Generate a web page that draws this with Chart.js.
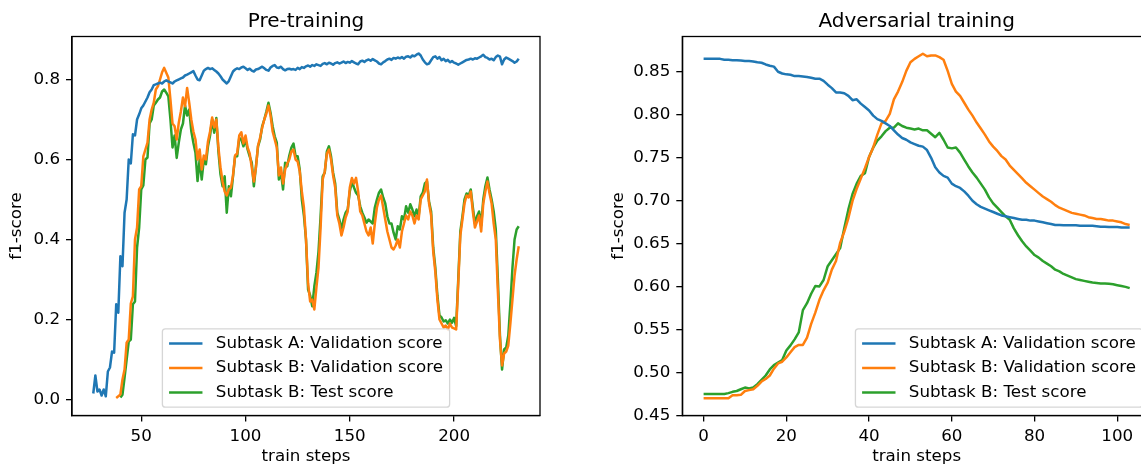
<!DOCTYPE html>
<html>
<head>
<meta charset="utf-8">
<script src="https://cdn.jsdelivr.net/npm/chart.js@4.4.1/dist/chart.umd.min.js"></script>
<style>
  html, body { margin: 0; padding: 0; background: #fff; overflow: hidden; }
  #left { position: absolute; left: 0; top: 0; width: 560px; height: 466px; }
  #right { position: absolute; left: 570px; top: 0; width: 590px; height: 466px; }
</style>
</head>
<body>
<div id="left"><canvas id="preChart"></canvas></div>
<div id="right"><canvas id="advChart"></canvas></div>
<script>
// labels
const seriesLabels = ['Subtask A: Validation score', 'Subtask B: Validation score', 'Subtask B: Test score'];
const seriesColors = ['#1f77b4', '#ff7f0e', '#2ca02c'];

// Pre-training: steps 27..231
const preFirstStep = 27;
const preLastStep = 231;
const preXTicks = [50, 100, 150, 200];
const preYTicks = [0.0, 0.2, 0.4, 0.6, 0.8];

const preA = [
  0.015, 0.060, 0.020, 0.025, 0.010, 0.025, 0.008, 0.070, 0.080, 0.120,
  0.117, 0.238, 0.217, 0.358, 0.333, 0.467, 0.500, 0.600, 0.590, 0.663,
  0.660, 0.700, 0.713, 0.728, 0.735, 0.745, 0.755, 0.768, 0.775, 0.786,
  0.788, 0.790, 0.792, 0.790, 0.795, 0.798, 0.795, 0.793, 0.790, 0.795,
  0.798, 0.800, 0.803, 0.805, 0.810, 0.812, 0.815, 0.818, 0.821, 0.810,
  0.800, 0.798, 0.810, 0.822, 0.826, 0.829, 0.826, 0.828, 0.824, 0.820,
  0.815, 0.808, 0.800, 0.795, 0.790, 0.796, 0.808, 0.820, 0.825, 0.828,
  0.826, 0.830, 0.832, 0.828, 0.824, 0.827, 0.822, 0.820, 0.825, 0.826,
  0.829, 0.832, 0.828, 0.824, 0.822, 0.830, 0.834, 0.836, 0.830, 0.829,
  0.832, 0.826, 0.823, 0.826, 0.827, 0.825, 0.826, 0.824, 0.829, 0.826,
  0.831, 0.829, 0.833, 0.835, 0.832, 0.836, 0.834, 0.838, 0.836, 0.834,
  0.839, 0.841, 0.838, 0.842, 0.840, 0.837, 0.841, 0.843, 0.840, 0.842,
  0.845, 0.841, 0.844, 0.842, 0.846, 0.843, 0.840, 0.838, 0.845, 0.847,
  0.844, 0.848, 0.850, 0.847, 0.851, 0.848, 0.845, 0.840, 0.838, 0.843,
  0.846, 0.850, 0.852, 0.849, 0.854, 0.852, 0.855, 0.853, 0.856, 0.852,
  0.857, 0.858, 0.855, 0.860, 0.858, 0.862, 0.865, 0.860, 0.850, 0.843,
  0.838, 0.840, 0.848, 0.856, 0.858, 0.852, 0.856, 0.848, 0.852, 0.846,
  0.849, 0.843, 0.846, 0.842, 0.840, 0.837, 0.840, 0.843, 0.846, 0.849,
  0.850, 0.852, 0.850, 0.853, 0.852, 0.855, 0.858, 0.862, 0.856, 0.854,
  0.850, 0.852, 0.848, 0.856, 0.860, 0.857, 0.838, 0.850, 0.855, 0.852,
  0.849, 0.846, 0.842, 0.845, 0.852
];

const preBVal = [
  null, null, null, null, null, null, null, null, null, null,
  null, 0.004, 0.008, 0.013, 0.050, 0.075, 0.142, 0.150, 0.240, 0.258,
  0.400, 0.430, 0.525, 0.533, 0.608, 0.625, 0.642, 0.700, 0.725, 0.742,
  0.775, 0.783, 0.800, 0.818, 0.829, 0.817, 0.805, 0.750, 0.690, 0.683,
  0.650, 0.692, 0.720, 0.755, 0.733, 0.779, 0.742, 0.700, 0.670, 0.650,
  0.600, 0.625, 0.575, 0.610, 0.600, 0.645, 0.670, 0.705, 0.680, 0.700,
  0.630, 0.580, 0.545, 0.520, 0.510, 0.525, 0.530, 0.560, 0.610, 0.615,
  0.660, 0.668, 0.640, 0.660, 0.630, 0.615, 0.580, 0.545, 0.580, 0.635,
  0.655, 0.680, 0.700, 0.715, 0.735, 0.710, 0.670, 0.650, 0.630, 0.560,
  0.580, 0.540, 0.575, 0.590, 0.600, 0.620, 0.625, 0.600, 0.595, 0.570,
  0.520, 0.480, 0.400, 0.290, 0.245, 0.250, 0.225, 0.280, 0.330, 0.430,
  0.550, 0.570, 0.615, 0.625, 0.600, 0.560, 0.530, 0.460, 0.440, 0.410,
  0.430, 0.455, 0.470, 0.530, 0.554, 0.540, 0.554, 0.520, 0.470, 0.460,
  0.440, 0.420, 0.410, 0.430, 0.390, 0.440, 0.480, 0.500, 0.510, 0.480,
  0.450, 0.420, 0.400, 0.380, 0.375, 0.385, 0.400, 0.380, 0.420, 0.440,
  0.460, 0.450, 0.470, 0.460, 0.440, 0.460, 0.450, 0.500, 0.510, 0.520,
  0.550, 0.490, 0.460, 0.370, 0.320, 0.250, 0.200, 0.190, 0.180, 0.185,
  0.175, 0.190, 0.180, 0.178, 0.175, 0.290, 0.410, 0.450, 0.490, 0.510,
  0.505, 0.520, 0.470, 0.430, 0.445, 0.460, 0.420, 0.490, 0.520, 0.545,
  0.515, 0.490, 0.440, 0.400, 0.270, 0.150, 0.085, 0.115, 0.120, 0.135,
  0.190, 0.250, 0.310, 0.350, 0.383
];

const preBTest = [
  null, null, null, null, null, null, null, null, null, null,
  null, null, null, 0.005, 0.012, 0.055, 0.100, 0.145, 0.150, 0.238,
  0.245, 0.380, 0.430, 0.525, 0.535, 0.600, 0.605, 0.690, 0.700, 0.735,
  0.742, 0.750, 0.755, 0.770, 0.775, 0.767, 0.758, 0.700, 0.630, 0.660,
  0.604, 0.642, 0.675, 0.690, 0.735, 0.710, 0.725, 0.671, 0.642, 0.617,
  0.546, 0.600, 0.550, 0.600, 0.588, 0.633, 0.660, 0.700, 0.667, 0.704,
  0.620, 0.563, 0.533, 0.558, 0.467, 0.533, 0.508, 0.558, 0.608, 0.608,
  0.654, 0.650, 0.633, 0.650, 0.625, 0.608, 0.592, 0.533, 0.583, 0.633,
  0.650, 0.683, 0.700, 0.720, 0.742, 0.717, 0.683, 0.658, 0.642, 0.550,
  0.567, 0.525, 0.592, 0.583, 0.610, 0.630, 0.640, 0.608, 0.608, 0.575,
  0.500, 0.460, 0.400, 0.275, 0.260, 0.233, 0.283, 0.317, 0.370, 0.458,
  0.558, 0.567, 0.620, 0.633, 0.608, 0.567, 0.540, 0.467, 0.450, 0.425,
  0.450, 0.467, 0.475, 0.520, 0.545, 0.530, 0.517, 0.510, 0.483, 0.467,
  0.455, 0.442, 0.450, 0.445, 0.440, 0.480, 0.500, 0.517, 0.525, 0.505,
  0.490, 0.458, 0.440, 0.440, 0.417, 0.400, 0.433, 0.425, 0.458, 0.450,
  0.483, 0.467, 0.488, 0.475, 0.458, 0.475, 0.458, 0.508, 0.517, 0.540,
  0.545, 0.495, 0.470, 0.380, 0.330, 0.260, 0.210, 0.205, 0.195, 0.198,
  0.190, 0.200, 0.192, 0.204, 0.183, 0.300, 0.420, 0.458, 0.500, 0.515,
  0.510, 0.525, 0.480, 0.440, 0.458, 0.470, 0.435, 0.500, 0.533, 0.555,
  0.525, 0.500, 0.470, 0.425, 0.300, 0.160, 0.075, 0.125, 0.130, 0.160,
  0.240, 0.330, 0.400, 0.425, 0.433
];

// Adversarial training: steps 0..103
const advFirstStep = 0;
const advLastStep = 103;
const advXTicks = [0, 20, 40, 60, 80, 100];
const advYTicks = [0.45, 0.50, 0.55, 0.60, 0.65, 0.70, 0.75, 0.80, 0.85];

const advA = [
  0.865, 0.865, 0.865, 0.865, 0.865, 0.864, 0.864, 0.8635, 0.8635, 0.863,
  0.8625, 0.8625, 0.862, 0.861, 0.8605, 0.8585, 0.857, 0.856, 0.850, 0.848,
  0.847, 0.8465, 0.845, 0.845, 0.8445, 0.844, 0.843, 0.842, 0.842, 0.8395,
  0.835, 0.831, 0.826, 0.826, 0.825, 0.822, 0.817, 0.818, 0.813, 0.809,
  0.805, 0.799, 0.795, 0.793, 0.790, 0.787, 0.782, 0.777, 0.773, 0.771,
  0.768, 0.766, 0.764, 0.763, 0.759, 0.750, 0.739, 0.733, 0.729, 0.727,
  0.720, 0.717, 0.715, 0.711, 0.706, 0.700, 0.696, 0.693, 0.691, 0.689,
  0.687, 0.685, 0.683, 0.682, 0.681, 0.680, 0.679, 0.678, 0.678, 0.677,
  0.677, 0.676, 0.675, 0.674, 0.673, 0.672, 0.672, 0.6715, 0.6715, 0.6715,
  0.6715, 0.671, 0.671, 0.671, 0.671, 0.6705, 0.670, 0.670, 0.6695, 0.6695,
  0.6695, 0.669, 0.669, 0.669
];

const advBVal = [
  0.4705, 0.4705, 0.4705, 0.4705, 0.4705, 0.4705, 0.4705, 0.474, 0.474, 0.4745,
  0.479, 0.480, 0.481, 0.485, 0.490, 0.493, 0.497, 0.505, 0.511, 0.513,
  0.518, 0.524, 0.530, 0.5325, 0.5325, 0.541, 0.557, 0.570, 0.585, 0.596,
  0.605, 0.620, 0.630, 0.651, 0.664, 0.680, 0.700, 0.714, 0.726, 0.738,
  0.751, 0.762, 0.777, 0.790, 0.793, 0.801, 0.818, 0.827, 0.838, 0.851,
  0.861, 0.865, 0.868, 0.871, 0.868, 0.869, 0.869, 0.867, 0.864, 0.851,
  0.836, 0.827, 0.822, 0.814, 0.806, 0.799, 0.791, 0.784, 0.777, 0.769,
  0.763, 0.758, 0.752, 0.748, 0.741, 0.736, 0.731, 0.726, 0.721, 0.717,
  0.713, 0.709, 0.705, 0.702, 0.699, 0.695, 0.692, 0.690, 0.688, 0.686,
  0.685, 0.684, 0.683, 0.681, 0.680, 0.679, 0.679, 0.678, 0.677, 0.677,
  0.676, 0.675, 0.673, 0.672
];

const advBTest = [
  0.4755, 0.4755, 0.4755, 0.4755, 0.4755, 0.4755, 0.4765, 0.478, 0.479, 0.481,
  0.483, 0.482, 0.483, 0.487, 0.492, 0.497, 0.504, 0.509, 0.512, 0.515,
  0.526, 0.532, 0.539, 0.547, 0.573, 0.581, 0.592, 0.601, 0.6005, 0.608,
  0.624, 0.631, 0.638, 0.645, 0.668, 0.690, 0.708, 0.720, 0.729, 0.732,
  0.751, 0.762, 0.770, 0.775, 0.781, 0.785, 0.785, 0.790, 0.787, 0.785,
  0.784, 0.783, 0.784, 0.782, 0.782, 0.778, 0.774, 0.779, 0.771, 0.762,
  0.761, 0.762, 0.756, 0.748, 0.740, 0.733, 0.727, 0.720, 0.713, 0.704,
  0.697, 0.692, 0.687, 0.682, 0.678, 0.668, 0.660, 0.653, 0.647, 0.642,
  0.637, 0.634, 0.630, 0.627, 0.624, 0.620, 0.618, 0.615, 0.613, 0.611,
  0.609, 0.608, 0.607, 0.606, 0.605, 0.6045, 0.604, 0.604, 0.6035, 0.603,
  0.602, 0.601, 0.600, 0.5985
];

const FONT = 'DejaVu Sans';
const EM = 16.7;
Chart.defaults.font.family = FONT;
Chart.defaults.color = '#000';

// black box round the plot area
const framePlugin = {
  id: 'frame',
  afterDatasetsDraw(chart) {
    const { ctx, chartArea: a } = chart;
    ctx.save();
    ctx.strokeStyle = '#000';
    ctx.lineWidth = 1.3;
    ctx.strokeRect(a.left, a.top, a.right - a.left, a.bottom - a.top);
    ctx.restore();
  }
};

// title centred over the plot area (not the whole canvas)
const plotTitle = {
  id: 'plotTitle',
  afterDraw(chart, args, opts) {
    const { ctx, chartArea: a } = chart;
    ctx.save();
    ctx.font = '20px "' + FONT + '"';
    ctx.fillStyle = '#000';
    ctx.textAlign = 'center';
    ctx.textBaseline = 'alphabetic';
    ctx.fillText(opts.text, (a.left + a.right) / 2, a.top - 10);
    ctx.restore();
  }
};

// legend box drawn inside the plot area, like matplotlib's
const boxLegend = {
  id: 'boxLegend',
  afterDatasetsDraw(chart, args, opts) {
    const { ctx, chartArea: a } = chart;
    const items = chart.data.datasets;
    ctx.save();
    ctx.font = EM + 'px "' + FONT + '"';
    const textW = Math.max(...items.map(d => ctx.measureText(d.label).width));
    const pad = 0.4 * EM, handle = 2 * EM, gap = 0.8 * EM, rowH = 16.1, spacing = 0.5 * EM;
    const w = pad * 2 + handle + gap + textW;
    const h = pad * 2 + items.length * rowH + (items.length - 1) * spacing;
    const bottom = a.bottom - 0.5 * EM;
    const left = opts.align === 'right' ? a.right - 0.5 * EM - w : (a.left + a.right) / 2 - w / 2;
    const top = bottom - h;
    ctx.beginPath();
    ctx.roundRect(left, top, w, h, 3);
    ctx.fillStyle = 'rgba(255,255,255,0.8)';
    ctx.fill();
    ctx.strokeStyle = 'rgba(204,204,204,0.8)';
    ctx.lineWidth = 1.3;
    ctx.stroke();
    items.forEach((d, i) => {
      const cy = top + pad + rowH / 2 + i * (rowH + spacing);
      ctx.strokeStyle = d.borderColor;
      ctx.lineWidth = d.borderWidth;
      ctx.beginPath();
      ctx.moveTo(left + pad, cy);
      ctx.lineTo(left + pad + handle, cy);
      ctx.stroke();
      ctx.fillStyle = '#000';
      ctx.textBaseline = 'middle';
      ctx.textAlign = 'left';
      ctx.fillText(d.label, left + pad + handle + gap, cy);
    });
    ctx.restore();
  }
};

function stepsFrom(first, last) {
  const out = [];
  for (let s = first; s <= last; s++) out.push(s);
  return out;
}

function makeDatasets(steps, series) {
  return series.map((vals, i) => ({
    label: seriesLabels[i],
    data: steps.map((s, j) => ({ x: s, y: vals[j] })),
    borderColor: seriesColors[i],
    backgroundColor: seriesColors[i],
    borderWidth: 2.5,
    pointRadius: 0,
    tension: 0,
    spanGaps: false,
    borderJoinStyle: 'round'
  }));
}

function makeChart(canvasId, cfg) {
  const tickGrid = {
    drawOnChartArea: false,
    drawTicks: true,
    tickLength: 6,
    color: '#000',
    lineWidth: 1.3
  };
  return new Chart(document.getElementById(canvasId), {
    type: 'line',
    data: { datasets: makeDatasets(cfg.steps, cfg.series) },
    options: {
      responsive: true,
      maintainAspectRatio: false,
      animation: false,
      devicePixelRatio: 1,
      layout: { padding: { left: 0, right: cfg.padRight, top: 36.5, bottom: 0 } },
      plugins: {
        legend: { display: false },
        tooltip: { enabled: false },
        title: { display: false },
        plotTitle: { text: cfg.title },
        boxLegend: { align: cfg.legendAlign }
      },
      scales: {
        x: {
          type: 'linear',
          min: cfg.xMin,
          max: cfg.xMax,
          grid: tickGrid,
          border: { display: true, color: '#000', width: 1.3 },
          afterBuildTicks: s => { s.ticks = cfg.xTicks.map(v => ({ value: v })); },
          afterFit: s => { s.height = 50.5; },
          ticks: { font: { size: EM }, color: '#000', padding: 5, maxRotation: 0 },
          title: { display: true, text: 'train steps', font: { size: EM, lineHeight: 1 }, color: '#000', padding: { top: 0, bottom: 1 } }
        },
        y: {
          min: cfg.yMin,
          max: cfg.yMax,
          grid: tickGrid,
          border: { display: true, color: '#000', width: 1.3 },
          afterBuildTicks: s => { s.ticks = cfg.yTicks.map(v => ({ value: v })); },
          afterFit: s => { s.width = cfg.yWidth; },
          ticks: { font: { size: EM }, color: '#000', padding: 6, callback: v => v.toFixed(cfg.yDigits) },
          title: { display: true, text: 'f1-score', font: { size: EM }, color: '#000', padding: { top: cfg.yTitlePad, bottom: 0 } }
        }
      }
    },
    plugins: [framePlugin, boxLegend, plotTitle]
  });
}

makeChart('preChart', {
  title: 'Pre-training',
  steps: stepsFrom(preFirstStep, preLastStep),
  series: [preA, preBVal, preBTest],
  xMin: 16.8, xMax: 241.2, xTicks: preXTicks,
  yMin: -0.04, yMax: 0.9075, yTicks: preYTicks, yDigits: 1,
  yWidth: 72, yTitlePad: 7, padRight: 20, legendAlign: 'center'
});

makeChart('advChart', {
  title: 'Adversarial training',
  steps: stepsFrom(advFirstStep, advLastStep),
  series: [advA, advBVal, advBTest],
  xMin: -5.15, xMax: 108.15, xTicks: advXTicks,
  yMin: 0.4505, yMax: 0.891, yTicks: advYTicks, yDigits: 2,
  yWidth: 112.3, yTitlePad: 39, padRight: 9, legendAlign: 'right'
});
</script>
</body>
</html>
